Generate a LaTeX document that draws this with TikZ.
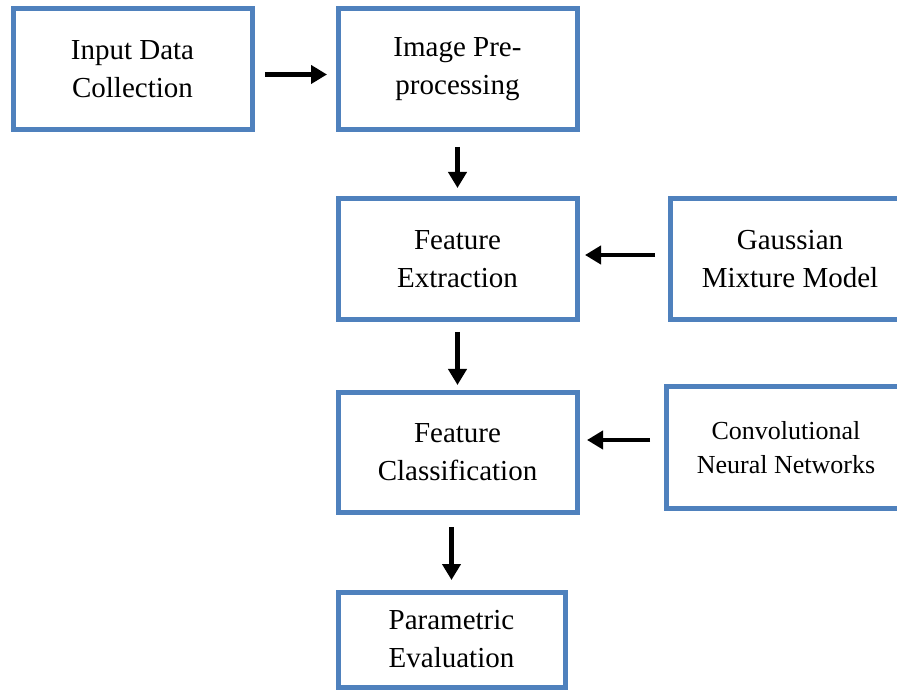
\documentclass[tikz,border=0pt]{standalone}
\usepackage{fontspec}
\setmainfont{Liberation Serif}
\newfontfamily\stagefont{Liberation Serif}
\usetikzlibrary{arrows.meta}
\usetikzlibrary{positioning}
\definecolor{boxblue}{HTML}{4F81BD}
\tikzset{
  stage/.style={
    rectangle,
    draw=boxblue, line width=5pt,
    outer sep=0pt,
    minimum width=239pt,
    minimum height=121pt,
    inner sep=2pt,
    align=center,
    font=\stagefont\fontsize{29}{38}\selectfont,
  },
  flow/.style={
    -{Triangle[length=16pt,width=18pt]},
    line width=4.5pt,
  },
}

\begin{document}
\begin{tikzpicture}[x=1pt,y=-1pt]
  \useasboundingbox (0,0) rectangle (897,692);

  \node[stage] (input) at (132.5,69.5) {Input Data\\Collection};
  \node[stage, right=86pt of input] (pre) {Image Pre-\\processing};
  \node[stage, below=69pt of pre] (extract) {Feature\\Extraction};
  \node[stage, right=93pt of extract, minimum width=240pt] (gmm) {Gaussian\\Mixture Model};
  \node[stage, below=73pt of extract, minimum height=119pt] (classify) {Feature\\Classification};
  \node[stage, right=89pt of classify, yshift=5pt, minimum width=240pt,
        font=\stagefont\fontsize{26}{34}\selectfont] (cnn) {Convolutional\\Neural Networks};
  \node[stage, below=80pt of classify, xshift=-6pt, minimum width=227pt,
        minimum height=95pt] (eval) {Parametric\\Evaluation};

  % arrows between the stages
  \draw[flow, shorten <=13pt, shorten >=11pt] ([yshift=-5pt]input.east) -- ([yshift=-5pt]input.east -| pre.west);
  \draw[flow, shorten <=17pt, shorten >=11pt] (pre.south) -- (extract.north);
  \draw[flow, shorten <=12pt, shorten >=8pt] (extract.south) -- (classify.north);
  \draw[flow, shorten <=15pt, shorten >=12pt] (eval.north |- classify.south) -- (eval.north);
  \draw[flow, shorten <=15pt, shorten >=8pt] ([yshift=4.5pt]gmm.west) -- ([yshift=4.5pt]gmm.west -| extract.east);
  \draw[flow, shorten <=16pt, shorten >=10pt] ([yshift=7.5pt]cnn.west) -- ([yshift=7.5pt]cnn.west -| classify.east);
\end{tikzpicture}
\end{document}
